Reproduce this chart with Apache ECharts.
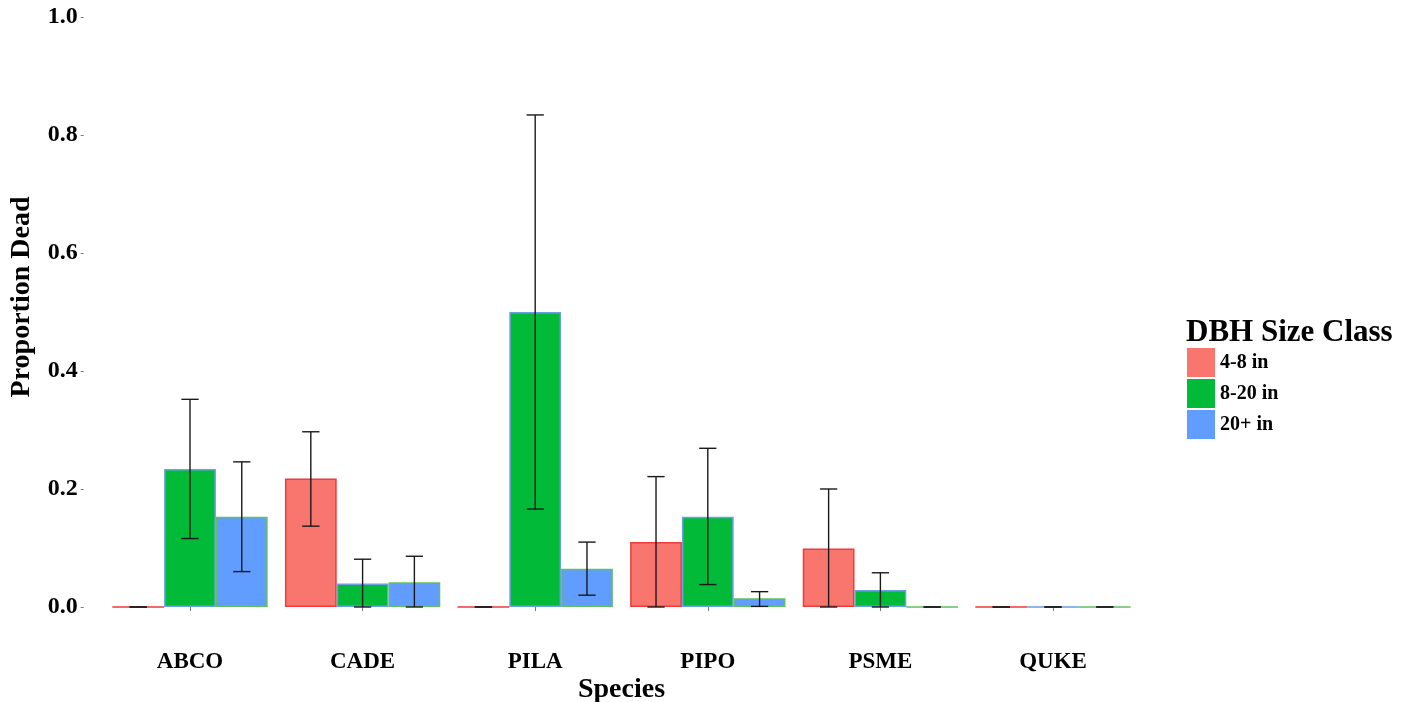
<!DOCTYPE html>
<html>
<head>
<meta charset="utf-8">
<script src="https://cdn.jsdelivr.net/npm/echarts@6/dist/echarts.min.js"></script>
<style>
html,body{margin:0;padding:0;background:#fff;}
#chart{width:1413px;height:702px;}
</style>
</head>
<body>
<div id="chart"></div>
<script>
const species = ['ABCO', 'CADE', 'PILA', 'PIPO', 'PSME', 'QUKE'];
const sizeClasses = ['4-8 in', '8-20 in', '20+ in'];
const prop4to8 = [0, 0.218, 0, 0.110, 0.099, 0];
const prop8to20 = [0.234, 0.040, 0.500, 0.153, 0.029, 0];
const prop20plus = [0.153, 0.042, 0.065, 0.015, 0, 0];
const lower4to8 = [0, 0.137, 0, 0, 0, 0];
const upper4to8 = [0, 0.297, 0, 0.221, 0.200, 0];
const lower8to20 = [0.116, 0, 0.166, 0.038, 0, 0];
const upper8to20 = [0.352, 0.081, 0.834, 0.269, 0.058, 0];
const lower20plus = [0.060, 0, 0.020, 0.001, 0, 0];
const upper20plus = [0.246, 0.086, 0.110, 0.026, 0, 0];
const yTicks = [0, 0.2, 0.4, 0.6, 0.8, 1.0];

const FONT = '"Liberation Serif", "Times New Roman", serif';
const fills = ['#F8766D', '#00BA38', '#619CFF'];
const borders = ['#EE3B3B', '#6A9FE6', '#62BF62'];
const props = [prop4to8, prop8to20, prop20plus];
const lowers = [lower4to8, lower8to20, lower20plus];
const uppers = [upper4to8, upper8to20, upper20plus];

const errData = [];
for (let g = 0; g < 3; g++) {
  for (let i = 0; i < species.length; i++) {
    errData.push([i, g, lowers[g][i], uppers[g][i]]);
  }
}

const barSeries = sizeClasses.map((name, g) => ({
  name: name,
  type: 'bar',
  data: props[g],
  barWidth: '30%',
  barGap: '0%',
  itemStyle: { color: fills[g], borderColor: borders[g], borderWidth: 1.5 },
  emphasis: { disabled: true },
  z: 2
}));

const chart = echarts.init(document.getElementById('chart'), null, { renderer: 'canvas' });
chart.setOption({
  backgroundColor: '#ffffff',
  animation: false,
  textStyle: { fontFamily: FONT },
  title: {
    text: 'DBH Size Class',
    left: 1181,
    top: 312,
    textStyle: { fontFamily: FONT, fontWeight: 'bold', fontSize: 31, color: '#000' }
  },
  legend: {
    data: sizeClasses,
    orient: 'vertical',
    left: 1187,
    top: 348,
    icon: 'rect',
    itemWidth: 28,
    itemHeight: 29,
    itemGap: 2,
    padding: 0,
    itemStyle: { borderWidth: 0 },
    textStyle: { fontFamily: FONT, fontWeight: 'bold', fontSize: 20, color: '#000' }
  },
  grid: { left: 103.7, right: 273.7, top: -12.5, bottom: 65.5, containLabel: false, outerBoundsMode: 'none' },
  xAxis: {
    type: 'category',
    data: species,
    axisLine: { show: false },
    axisTick: { show: true, alignWithLabel: true, length: 4, lineStyle: { color: '#777', width: 1 } },
    axisLabel: { margin: 14, fontFamily: FONT, fontWeight: 'bold', fontSize: 23, color: '#000' },
    name: 'Species',
    nameLocation: 'middle',
    nameGap: 39,
    nameMoveOverlap: false,
    nameTextStyle: { fontFamily: FONT, fontWeight: 'bold', fontSize: 28, color: '#000' }
  },
  yAxis: {
    type: 'value',
    min: -0.05,
    max: 1.05,
    offset: 20,
    splitLine: { show: false },
    axisLine: { show: false },
    axisTick: { show: true, length: 3, customValues: yTicks, lineStyle: { color: '#777', width: 1 } },
    axisLabel: {
      margin: 6,
      customValues: yTicks,
      fontFamily: FONT, fontWeight: 'bold', fontSize: 24, color: '#000',
      formatter: v => v.toFixed(1)
    }
  },
  graphic: [{
    type: 'text',
    x: 22,
    y: 297,
    rotation: Math.PI / 2,
    style: {
      text: 'Proportion Dead',
      fontFamily: FONT, fontWeight: 'bold', fontSize: 28, fill: '#000',
      textAlign: 'center', textVerticalAlign: 'middle'
    }
  }],
  series: barSeries.concat([{
    type: 'custom',
    name: 'error',
    data: errData,
    z: 5,
    silent: true,
    encode: { x: 0, y: [2, 3] },
    renderItem: function (params, api) {
      const idx = api.value(0);
      const g = api.value(1);
      const lo = api.value(2);
      const hi = api.value(3);
      const band = api.size([1, 0])[0];
      const pLo = api.coord([idx, lo]);
      const pHi = api.coord([idx, hi]);
      const cx = pLo[0] + (g - 1) * band * 0.3;
      const half = band * 0.05;
      const st = { stroke: '#1a1a1a', lineWidth: 1.4 };
      return {
        type: 'group',
        children: [
          { type: 'line', shape: { x1: cx, y1: pLo[1], x2: cx, y2: pHi[1] }, style: st },
          { type: 'line', shape: { x1: cx - half, y1: pHi[1], x2: cx + half, y2: pHi[1] }, style: st },
          { type: 'line', shape: { x1: cx - half, y1: pLo[1], x2: cx + half, y2: pLo[1] }, style: st }
        ]
      };
    }
  }])
});
</script>
</body>
</html>
